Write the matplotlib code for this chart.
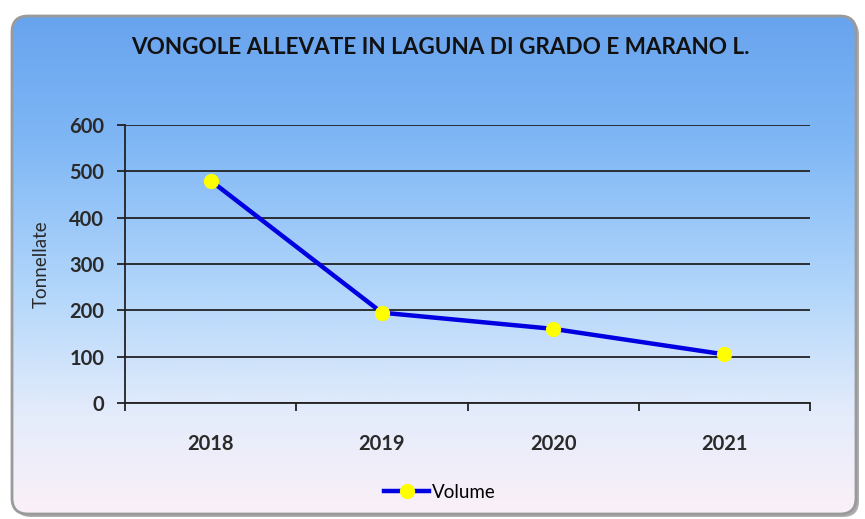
import numpy as np
import matplotlib
matplotlib.use("Agg")
import matplotlib.pyplot as plt
from matplotlib.patches import FancyBboxPatch
from matplotlib.colors import LinearSegmentedColormap

years = ["2018", "2019", "2020", "2021"]
volume = [480, 195, 160, 105]
title = "VONGOLE ALLEVATE IN LAGUNA DI GRADO E MARANO L."
ylabel = "Tonnellate"
series_name = "Volume"

W, H = 865, 519
fig = plt.figure(figsize=(W / 100, H / 100), dpi=100)
fig.patch.set_facecolor("white")

# background panel
bg = fig.add_axes([0, 0, 1, 1], zorder=0)
bg.set_xlim(0, W)
bg.set_ylim(H, 0)
bg.axis("off")
x0, y0, x1, y1 = 12, 16, 856, 514
shadow = FancyBboxPatch((x0 + 3, y0 + 3), x1 - x0, y1 - y0,
                        boxstyle="round,pad=0,rounding_size=16",
                        facecolor="#8a8a8a", edgecolor="none", alpha=0.7)
bg.add_patch(shadow)
box = FancyBboxPatch((x0, y0), x1 - x0, y1 - y0,
                     boxstyle="round,pad=0,rounding_size=16",
                     facecolor="none", edgecolor="#9a9a9a", linewidth=2)
bg.add_patch(box)
cmap = LinearSegmentedColormap.from_list(
    "bgc", [(0.0, "#68a3ee"), (0.25, "#7fb7f5"), (0.55, "#b2d6fb"),
            (0.8, "#e4ecfb"), (1.0, "#fbf0f8")])
grad = np.linspace(0, 1, 256).reshape(-1, 1)
im = bg.imshow(grad, cmap=cmap, aspect="auto",
               extent=[x0, x1, y1, y0], zorder=1)
clip = FancyBboxPatch((x0, y0), x1 - x0, y1 - y0,
                      boxstyle="round,pad=0,rounding_size=16",
                      facecolor="none", edgecolor="none", transform=bg.transData)
bg.add_patch(clip)
im.set_clip_path(clip)
box.set_zorder(2)

fig.text(440 / W, 1 - 47 / H, title, ha="center", va="center",
         fontsize=16.2, fontweight="bold", family="Lato", color="#111111")

# plot axes
left, right, top, bottom = 125, 810, 125, 403
ax = fig.add_axes([left / W, 1 - bottom / H, (right - left) / W, (bottom - top) / H], zorder=3)
ax.patch.set_alpha(0)
x = np.arange(len(years))
ax.plot(x, volume, color="#0000e0", linewidth=3.2, marker="o",
        markersize=10, markerfacecolor="#ffff00", markeredgecolor="#ffff00",
        label=series_name, zorder=4)
ax.set_xlim(-0.5, len(years) - 0.5)
ax.set_ylim(0, 600)
ax.set_yticks(range(0, 601, 100))
ax.yaxis.grid(True, color="#222222", linewidth=1.3)
ax.set_axisbelow(True)
ax.set_xticks(x)
ax.set_xticklabels(years, fontsize=14.5, fontweight="bold", family="Lato", color="#2a2a2a")
ax.set_xticks(np.arange(-0.5, len(years)), minor=True)
ax.tick_params(axis="x", which="major", length=0, pad=22)
ax.tick_params(axis="x", which="minor", length=6, width=1.3, color="#222222", direction="out")
ax.tick_params(axis="y", length=6, width=1.3, color="#222222", direction="out", pad=9)
for lab in ax.get_yticklabels():
    lab.set_fontsize(14.5)
    lab.set_fontweight("bold")
    lab.set_family("Lato")
    lab.set_color("#2a2a2a")
for s in ["top", "right"]:
    ax.spines[s].set_visible(False)
for s in ["left", "bottom"]:
    ax.spines[s].set_color("#222222")
    ax.spines[s].set_linewidth(1.3)
ax.set_ylabel(ylabel, fontsize=13.5, family="Lato", color="#2a2a2a", labelpad=14)

leg = fig.legend(loc="center", bbox_to_anchor=(440 / W, 1 - 492 / H), frameon=False,
                 prop={"family": "Lato", "size": 13.5}, handlelength=2.4,
                 handletextpad=0.15)

fig.savefig("out.png", dpi=100)
